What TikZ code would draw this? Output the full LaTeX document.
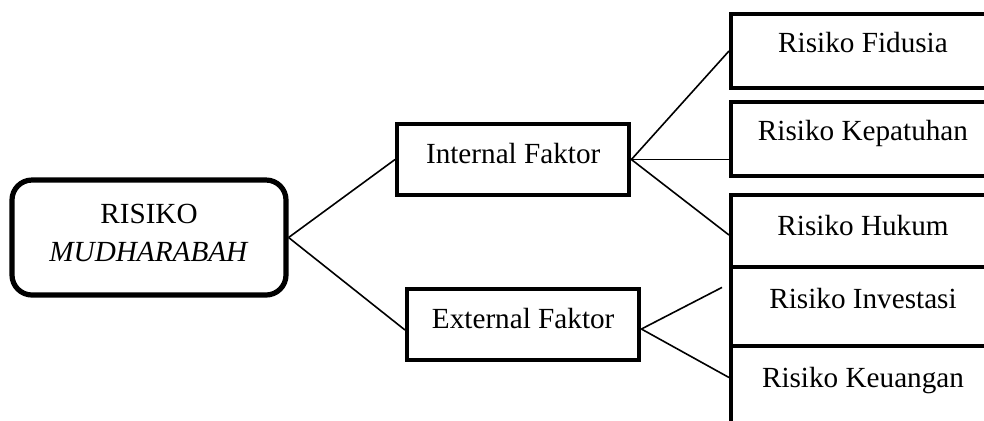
\documentclass[tikz,border=0pt]{standalone}
\usepackage{fontspec}
\setmainfont{Liberation Serif}
\usetikzlibrary{calc}
\newcommand{\boxfont}{\fontsize{14.6pt}{17pt}\selectfont}
\tikzstyle{rootbox} = [draw, rounded corners=10pt, line width=2.6pt, minimum width=137pt, minimum height=57.5pt, inner sep=0pt]
\tikzstyle{faktor} = [draw, line width=2.2pt, minimum width=116pt, text height=19.5pt, text depth=16pt, inner sep=0pt, font=\boxfont]
\tikzstyle{risiko} = [draw, line width=2pt, minimum width=132pt, text height=19pt, text depth=18pt, inner sep=0pt, font=\boxfont]
\tikzstyle{link} = [line width=0.8pt]

\begin{document}
\begin{tikzpicture}[x=0.5pt, y=-0.5pt]
    \useasboundingbox (0,0) rectangle (984,420);
    \clip (0,0) rectangle (984,420);
    \fill[white] (0,0) rectangle (984,420);

    % root
    \node[rootbox] (root) at (149,237.5) {};
    \node[align=center, font=\fontsize{14.6pt}{19.3pt}\selectfont] (roottxt) at (149,233)
        {RISIKO\\\textit{MUDHARABAH}};

    % faktor
    \node[faktor, anchor=base west] (intf) at (395,163) {Internal Faktor};
    \node[faktor, anchor=base west] (extf) at (405,328) {External Faktor};

    % risiko, internal side
    \node[risiko, anchor=base west] (fid) at (729,52) {Risiko Fidusia};
    \node[risiko, anchor=base west] (kep) at (729,140) {Risiko Kepatuhan};
    \node[risiko, anchor=base west, text height=20pt, text depth=16pt] (huk) at (729,235) {Risiko Hukum};

    % risiko, external side (boxes stacked edge to edge)
    \node[risiko, anchor=base west, text height=20.5pt, text depth=19pt] (inv) at (729,308) {Risiko Investasi};
    \node[risiko, anchor=base west, text height=20.5pt] (keu) at (729,387) {Risiko Keuangan};

    % links
    \draw[link] (root.east) -- (intf.west);
    \draw[link] (root.east) -- ([yshift=-2.75pt]extf.west);
    \draw[link] (intf.east) -- (fid.west);
    \draw[link] (intf.east) -- (kep.west |- intf.east);
    \draw[link] (intf.east) -- ([yshift=-2pt]huk.west);
    \draw[link] ([yshift=-2.25pt]extf.east) -- ($(inv.north west)!0.27!(inv.south west)+(-3.5pt,0)$);
    \draw[link] ([yshift=-2.25pt]extf.east) -- ([yshift=3.5pt]keu.west);
\end{tikzpicture}
\end{document}
